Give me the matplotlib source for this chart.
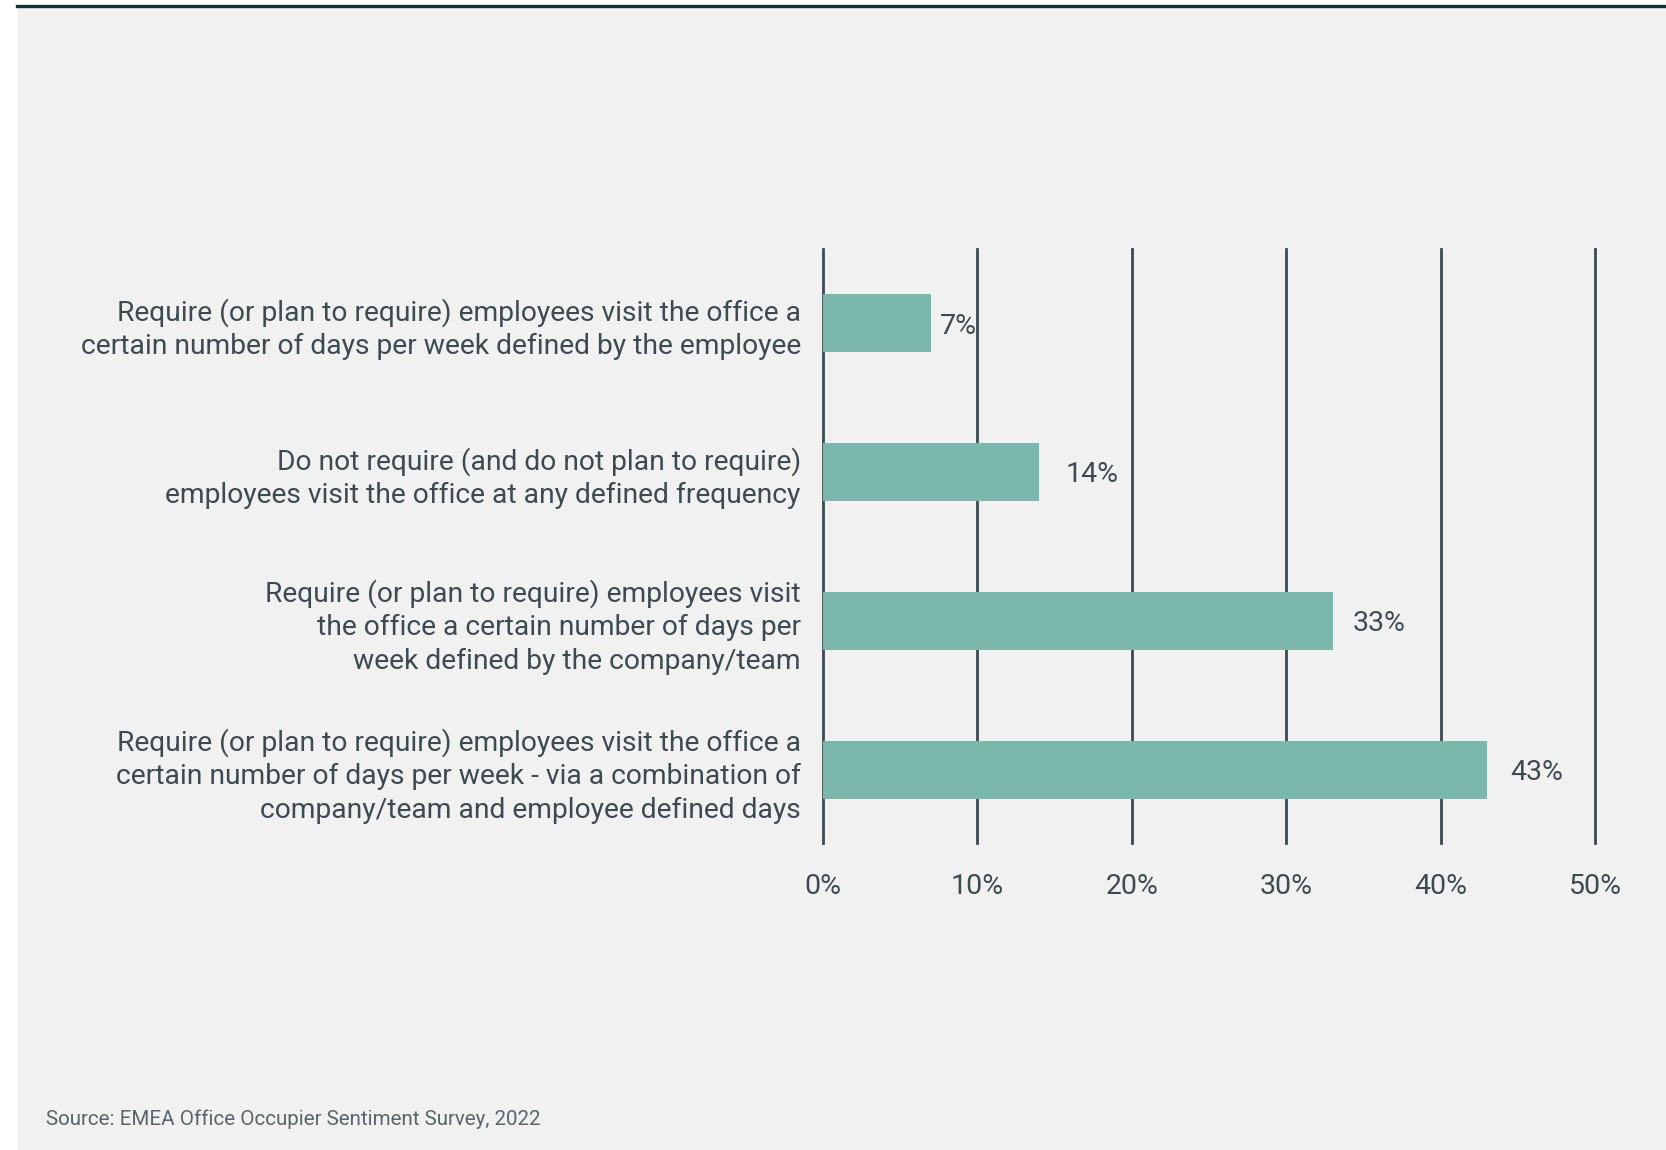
import matplotlib
matplotlib.use("Agg")
import matplotlib.pyplot as plt
from matplotlib.patches import Rectangle
from matplotlib.lines import Line2D

categories = [
    "Require (or plan to require) employees visit the office a\ncertain number of days per week defined by the employee",
    "Do not require (and do not plan to require)\nemployees visit the office at any defined frequency",
    "Require (or plan to require) employees visit\nthe office a certain number of days per\nweek defined by the company/team",
    "Require (or plan to require) employees visit the office a\ncertain number of days per week - via a combination of\ncompany/team and employee defined days",
]
values = [7, 14, 33, 43]
value_labels = ["7%", "14%", "33%", "43%"]
xticks = [0, 10, 20, 30, 40, 50]
xtick_labels = ["0%", "10%", "20%", "30%", "40%", "50%"]
source = "Source: EMEA Office Occupier Sentiment Survey, 2022"

BG = "#f1f1f1"
BAR = "#7bb8ab"
GRID = "#3b4a4f"
TEXT = "#3d4b50"

plt.rcParams["font.family"] = ["Roboto", "DejaVu Sans"]

fig = plt.figure(figsize=(16.66, 11.5), dpi=100, facecolor="white")

# panel background and the dark rule along the top
fig.patches.append(Rectangle((18 / 1666, 0), 1, (1150 - 7) / 1150,
                             transform=fig.transFigure, facecolor=BG,
                             edgecolor="none", zorder=-5))
fig.lines.append(Line2D([17 / 1666, 1], [1 - 6 / 1150, 1 - 6 / 1150],
                        transform=fig.transFigure, color="#0f3333", lw=2.4))

ax = fig.add_axes([823 / 1666, 307.4 / 1150, 772 / 1666, 594 / 1150])
ax.set_facecolor("none")

pos = list(range(len(values)))
for x in xticks:
    ax.axvline(x, color=GRID, lw=2, zorder=1, clip_on=False)
ax.barh(pos, values, height=0.39, color=BAR, zorder=2)

pads = [0.6, 1.7, 1.3, 1.5]
for p, v, lab, pad in zip(pos, values, value_labels, pads):
    ax.text(v + pad, p + 0.02, lab, va="center", ha="left", fontsize=20.5,
            color=TEXT)

ax.set_xlim(0, 50)
ax.set_ylim(3.49, -0.5)
ax.set_xticks(xticks)
ax.set_xticklabels(xtick_labels)
ax.set_yticks(pos)
ax.set_yticklabels(categories, linespacing=1.3)
ax.tick_params(axis="x", length=0, pad=22, labelsize=20.5, labelcolor=TEXT)
ax.tick_params(axis="y", length=0, pad=16, labelsize=20.3, labelcolor=TEXT)
for s in ax.spines.values():
    s.set_visible(False)

fig.text(46 / 1666, 1 - 1119 / 1150, source, fontsize=14.8, color="#5a6569",
         va="center", ha="left")

fig.savefig("out.png", dpi=100, facecolor=fig.get_facecolor())
